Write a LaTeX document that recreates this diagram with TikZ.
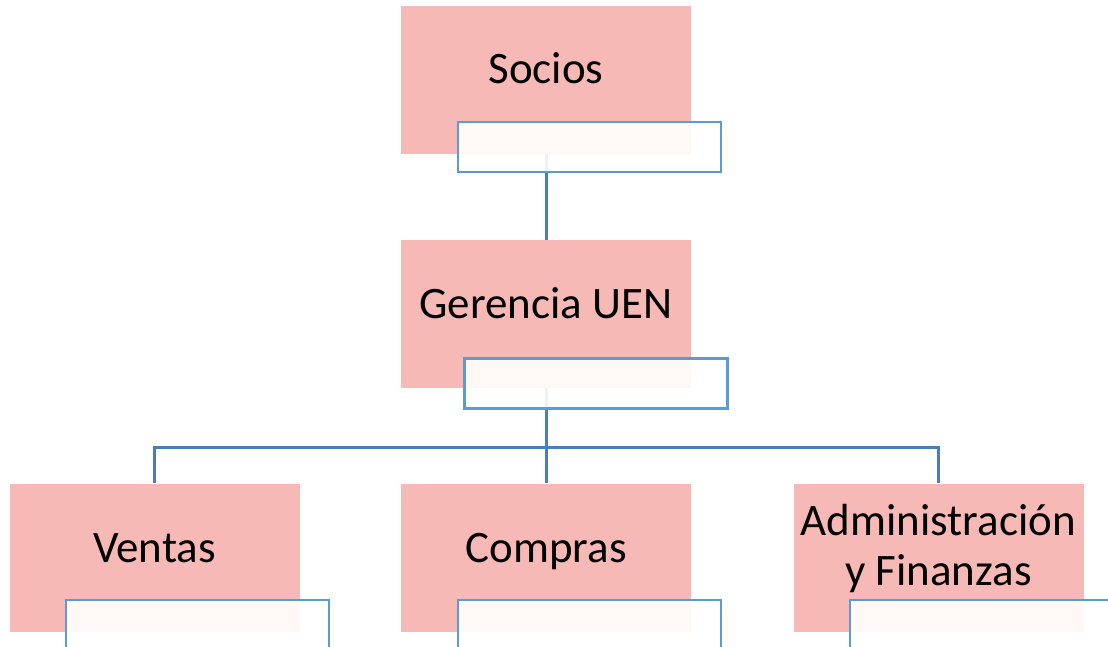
\documentclass[tikz,border=0pt]{standalone}
\usepackage{fontspec}
\setmainfont{Carlito}
\usetikzlibrary{calc}
\definecolor{pinkfill}{HTML}{F7B9B5}
\definecolor{subline}{HTML}{5B9BD5}
\definecolor{conn}{HTML}{4A7EBB}
\tikzset{
  mainbox/.style={rectangle, fill=pinkfill, draw=none, minimum width=290pt, minimum height=148pt, inner sep=0pt},
  subbox/.style={rectangle, draw=subline, line width=2.5pt, fill=white, fill opacity=0.9, minimum width=263pt, minimum height=50pt, inner sep=0pt},
  lbl/.style={font=\fontsize{45}{50}\selectfont, align=center, inner sep=0pt, anchor=base},
  connector/.style={draw=conn, line width=3pt}
}
\begin{document}
\begin{tikzpicture}[x=1pt,y=-1pt]
\useasboundingbox (0,0) rectangle (1108,647);
% main boxes
\node[mainbox] (socios) at (546,80) {};
\node[mainbox] (gerencia) at (546,314) {};
\node[mainbox] (ventas) at (154.5,557.5) {};
\node[mainbox] (compras) at (546,557.5) {};
\node[mainbox] (admin) at (938.5,557.5) {};
% labels
\node[lbl] (sociosT) at (546,84) {Socios};
\node[lbl] (gerenciaT) at (546,318) {Gerencia UEN};
\node[lbl] (ventasT) at (154.5,562) {Ventas};
\node[lbl] (comprasT) at (546,562) {Compras};
\node[lbl] (adminT) at (938.5,585) {Administración\\y Finanzas};
% connectors
\coordinate (bus) at (546,447);
\draw[connector] (socios.south) -- (gerencia.north);
\draw[connector] (gerencia.south) -- (bus);
\draw[connector] (bus) -| (ventas.north);
\draw[connector] (bus) -| (admin.north);
\draw[connector] (bus) -- (compras.north);
% sub boxes
\node[subbox] (sociosS) at (589.5,147) {};
\node[subbox] (gerenciaS) at (596,383.5) {};
\node[subbox] (ventasS) at (197.5,625) {};
\node[subbox] (comprasS) at (589.5,625) {};
\node[subbox] (adminS) at (981.5,625) {};
\end{tikzpicture}
\end{document}
